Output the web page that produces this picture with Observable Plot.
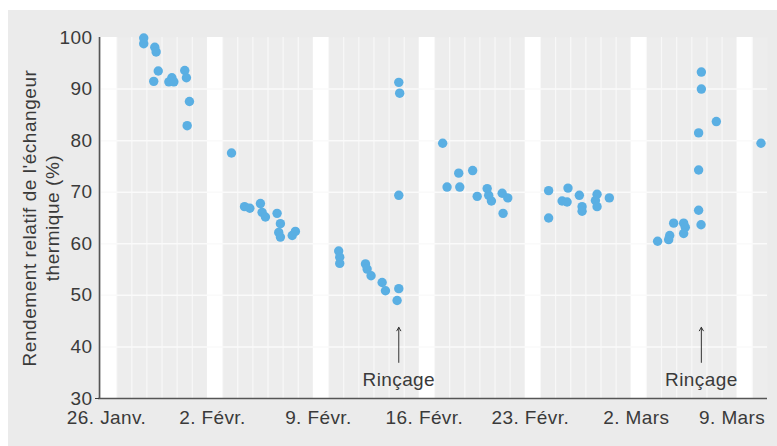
<!DOCTYPE html>
<html><head><meta charset="utf-8">
<script src="https://cdn.jsdelivr.net/npm/d3@7"></script>
<script src="https://cdn.jsdelivr.net/npm/@observablehq/plot@0.6"></script>
<style>
body{margin:0;background:#fff;}
#wrap{position:relative;width:777px;height:446px;overflow:hidden;}
#bg{position:absolute;left:8px;top:10px;right:0;bottom:0;background:#ebebeb;}
#chart{position:absolute;left:0;top:0;}
#chart svg text{letter-spacing:0.4px;}
#chart svg .ylab text{letter-spacing:0.55px;}
</style></head><body>
<div id="wrap"><div id="bg"></div><div id="chart"></div></div>
<script>
// days since 26 Jan (fractional), relative efficiency (%)
const day = [
  2.79, 2.79, 3.52, 3.61, 3.75, 3.45, 4.45, 4.65, 4.78, 5.50, 5.61, 5.81, 5.66,
  8.59, 9.45, 9.80, 10.50, 10.61, 10.83, 11.60, 11.82, 11.71, 11.82, 12.60, 12.81,
  15.67, 15.74, 15.74, 17.44, 17.55, 17.81, 18.54, 18.76, 19.64, 19.53, 19.64, 19.70, 19.64,
  22.54, 22.83, 23.60, 23.67, 24.52, 24.82, 25.48, 25.58, 25.76, 26.47, 26.84, 26.53,
  29.54, 29.54, 30.82, 30.43, 30.76, 31.57, 31.75, 31.75, 32.74, 32.63, 32.74, 33.55,
  36.74, 37.54, 37.47, 37.80, 38.46, 38.57, 38.46, 39.45, 39.61, 39.63, 39.63, 39.45, 39.45, 40.62, 43.57
];
const value = [
  99.9, 98.8, 98.1, 97.2, 93.5, 91.5, 91.4, 92.2, 91.4, 93.6, 92.2, 87.6, 82.9,
  77.6, 67.2, 66.9, 67.8, 66.1, 65.2, 65.9, 63.9, 62.2, 61.3, 61.6, 62.4,
  58.6, 57.4, 56.2, 56.1, 55.1, 53.8, 52.5, 50.9, 51.3, 49.0, 91.3, 89.2, 69.4,
  79.5, 71.0, 73.7, 71.0, 74.2, 69.2, 70.7, 69.4, 68.3, 69.8, 68.9, 65.9,
  70.3, 65.0, 70.8, 68.3, 68.1, 69.4, 67.2, 66.3, 69.6, 68.4, 67.2, 68.9,
  60.5, 61.6, 60.8, 64.0, 64.0, 63.2, 62.0, 66.5, 63.7, 93.3, 90.0, 81.5, 74.3, 83.7, 79.5
];
const tickDays = [0, 7, 14, 21, 28, 35, 42];
const tickLabels = ["26. Janv.", "2. Févr.", "9. Févr.", "16. Févr.", "23. Févr.", "2. Mars", "9. Mars"];
const yTicks = [30, 40, 50, 60, 70, 80, 90, 100];
const rinseDays = [19.64, 39.63];
const rinseLabel = "Rinçage";
const yLabel = "Rendement relatif de l'échangeur\nthermique (%)";

const points = day.map((d, i) => ({day: d, value: value[i]}));
const dayLines = d3.range(1, 44);
const lastTick = tickDays[tickDays.length - 1];
const fmtX = d => tickLabels[tickDays.indexOf(d)];

const chart = Plot.plot({
  width: 777, height: 446,
  marginLeft: 101, marginRight: 10, marginTop: 37, marginBottom: 48,
  x: {type: "linear", domain: [0, 44]},
  y: {domain: [30, 100]},
  style: {background: "transparent", fontFamily: "'Liberation Sans', Arial, sans-serif", fontSize: "19px", color: "#3a3a3a", overflow: "visible"},
  marks: [
    Plot.frame({fill: "#ededed", stroke: null}),
    Plot.ruleX(dayLines, {stroke: "#f8f8f8", strokeWidth: 1.2}),
    Plot.rect(tickDays, {x1: d => d, x2: d => d + 1, fill: "white"}),
    Plot.ruleY(yTicks.slice(1, -1), {stroke: "#fafafa", strokeWidth: 1.5}),
    Plot.ruleX([0], {dx: -2, stroke: "#555", strokeWidth: 1.6}),
    Plot.ruleY([30], {insetLeft: -3, stroke: "#555", strokeWidth: 1.6}),
    Plot.axisY(yTicks, {tickSize: 0, tickPadding: 9, label: null, fontSize: 19}),
    Plot.axisY([30], {tickSize: 4, dx: -2, tickFormat: () => "", label: null}),
    Plot.axisX(tickDays.slice(0, -1), {tickSize: 0, tickPadding: 12, dx: 5, label: null, fontSize: 19,
      tickFormat: fmtX}),
    Plot.axisX([lastTick], {tickSize: 0, tickPadding: 12, dx: 28, textAnchor: "end", label: null, fontSize: 19,
      tickFormat: fmtX}),
    Plot.text([yLabel], {frameAnchor: "left", textAnchor: "middle", rotate: -90, dx: -61, fontSize: 19,
      lineHeight: 1.18, fill: "#3a3a3a", className: "ylab"}),
    Plot.dot(points, {x: "day", y: "value", r: 4.7, fill: "#5aafe3"}),
    Plot.arrow(rinseDays, {x: d => d, y1: 37, y2: 43.8, stroke: "#333", strokeWidth: 1, headLength: 6}),
    Plot.text(rinseDays, {x: d => d, y: 33.6, text: () => rinseLabel, fill: "#3a3a3a", fontSize: 19})
  ]
});
document.getElementById("chart").appendChild(chart);
</script>
</body></html>
